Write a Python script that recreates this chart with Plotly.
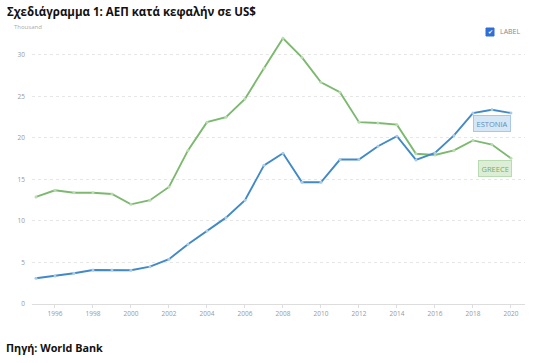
import plotly.graph_objects as go

years = list(range(1995, 2021))
greece = [12.9, 13.7, 13.4, 13.4, 13.25, 12.0, 12.5, 14.1, 18.5, 21.9, 22.5, 24.7, 28.4, 32.0,
          29.7, 26.7, 25.5, 21.9, 21.8, 21.6, 18.1, 17.95, 18.5, 19.7, 19.2, 17.55]
estonia = [3.1, 3.37, 3.7, 4.1, 4.1, 4.06, 4.5, 5.4, 7.2, 8.8, 10.4, 12.5, 16.7, 18.15,
           14.66, 14.66, 17.4, 17.4, 19.0, 20.2, 17.35, 18.2, 20.3, 23.0, 23.4, 23.0]
tick_years = list(range(1996, 2021, 2))
y_ticks = [0, 5, 10, 15, 20, 25, 30]

blue = "#4189c7"
green = "#7cb96f"

fig = go.Figure()
fig.add_trace(go.Scatter(x=years, y=greece, mode="lines+markers", name="GREECE",
                         line=dict(color=green, width=1.9),
                         marker=dict(size=3, color="#b9dcb0")))
fig.add_trace(go.Scatter(x=years, y=estonia, mode="lines+markers", name="ESTONIA",
                         line=dict(color=blue, width=1.9),
                         marker=dict(size=3, color="#a9cbe8")))

fig.update_layout(
    width=554, height=363,
    margin=dict(l=32, r=29, t=30, b=59),
    paper_bgcolor="white", plot_bgcolor="white",
    showlegend=False,
    font=dict(family="Open Sans", size=7, color="#999999"),
    xaxis=dict(range=[1994.79, 2020.74], tickvals=tick_years, showgrid=False,
               zeroline=False, showline=False, ticks="outside", ticklen=3,
               tickcolor="#dddddd", tickfont=dict(size=6.5, color="#999999")),
    yaxis=dict(range=[0, 33], tickvals=y_ticks, showgrid=True, gridcolor="#e6e6e6",
               griddash="dot", zeroline=True, zerolinecolor="#dddddd", zerolinewidth=1,
               ticks="", tickfont=dict(size=6.5, color="#999999"), ticklabelstandoff=6),
)

fig.add_annotation(text="<b>Σχεδιάγραμμα 1: ΑΕΠ κατά κεφαλήν σε US$</b>", xref="paper", yref="paper",
                   x=-27/493, y=1 + (30 - 12) / 274, xanchor="left", yanchor="middle", showarrow=False,
                   font=dict(family="Open Sans", size=11.5, color="#111111"))
fig.add_annotation(text="Thousand", xref="paper", yref="paper",
                   x=-20/493, y=1 + (30 - 27) / 274, xanchor="left", yanchor="middle", showarrow=False,
                   font=dict(family="Open Sans", size=6, color="#aaaaaa"))
fig.add_annotation(text="<b>Πηγή: World Bank</b>", xref="paper", yref="paper",
                   x=-28/493, y=-(347 - 304) / 274, xanchor="left", yanchor="middle", showarrow=False,
                   font=dict(family="Open Sans", size=10.8, color="#111111"))

# legend-like checkbox
fig.add_shape(type="rect", xref="paper", yref="paper",
              x0=(486 - 32) / 493, x1=(494 - 32) / 493,
              y0=1 + (30 - 36) / 274, y1=1 + (30 - 28) / 274,
              fillcolor="#2f6fd6", line=dict(color="#2f6fd6", width=1))
fig.add_annotation(text="✔", xref="paper", yref="paper",
                   x=(490 - 32) / 493, y=1 + (30 - 32) / 274, showarrow=False,
                   font=dict(size=6, color="white"), xanchor="center", yanchor="middle")
fig.add_annotation(text="LABEL", xref="paper", yref="paper",
                   x=(498 - 32) / 493, y=1 + (30 - 32) / 274, showarrow=False, xanchor="left",
                   yanchor="middle", font=dict(size=7, color="#888888"))

# series labels
fig.add_annotation(text="ESTONIA", x=2019.0, y=(304 - 123.5) / 8.3, showarrow=False,
                   font=dict(size=7.5, color="#5b8fc4"), bgcolor="#d5e6f5",
                   bordercolor="#a9c8e6", borderwidth=1, borderpad=2.5)
fig.add_annotation(text="GREECE", x=2019.15, y=(304 - 168.5) / 8.3, showarrow=False,
                   font=dict(size=7.5, color="#73ad66"), bgcolor="#dcefd6",
                   bordercolor="#b8dcaf", borderwidth=1, borderpad=2.5)

fig.write_html("out.html", config={"displayModeBar": False},
               post_script="document.body.style.margin='0px';")
